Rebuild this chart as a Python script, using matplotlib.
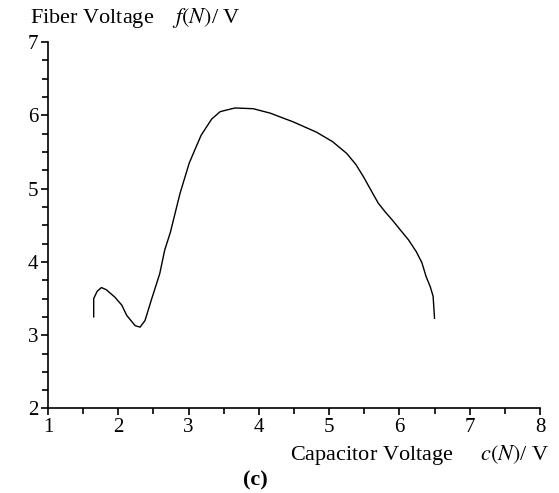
import matplotlib.pyplot as plt
from matplotlib.ticker import MultipleLocator

plt.rcParams['font.family'] = 'Liberation Serif'
plt.rcParams['mathtext.fontset'] = 'stix'

# curve (capacitor voltage, fiber voltage)
cap_v = [1.65, 1.65, 1.70, 1.76, 1.83, 1.95, 2.05, 2.12, 2.24, 2.31, 2.38,
         2.47, 2.59, 2.66, 2.74, 2.88, 3.01, 3.09, 3.18, 3.33, 3.45, 3.66,
         3.92, 4.16, 4.49, 4.82, 5.05, 5.25, 5.38, 5.49, 5.60, 5.70, 5.80,
         5.90, 6.01, 6.13, 6.24, 6.32, 6.38, 6.44, 6.48, 6.50]
fiber_v = [3.25, 3.50, 3.60, 3.65, 3.62, 3.52, 3.41, 3.27, 3.13, 3.11, 3.20,
           3.48, 3.84, 4.16, 4.40, 4.94, 5.35, 5.53, 5.73, 5.95, 6.05, 6.10,
           6.09, 6.03, 5.91, 5.77, 5.64, 5.48, 5.33, 5.16, 4.97, 4.80, 4.68,
           4.57, 4.44, 4.30, 4.14, 3.99, 3.80, 3.66, 3.53, 3.23]

fig = plt.figure(figsize=(5.59, 4.93), dpi=100)
ax = fig.add_axes([0.0859, 0.1714, 0.880, 0.7434])

ax.plot(cap_v, fiber_v, color='black', linewidth=1.0)

ax.set_xlim(1, 8)
ax.set_ylim(2, 7)
ax.xaxis.set_major_locator(MultipleLocator(1))
ax.xaxis.set_minor_locator(MultipleLocator(0.5))
ax.yaxis.set_major_locator(MultipleLocator(1))
ax.yaxis.set_minor_locator(MultipleLocator(0.25))

for side in ['top', 'right']:
    ax.spines[side].set_visible(False)
for side in ['left', 'bottom']:
    ax.spines[side].set_linewidth(1.2)

ax.tick_params(which='major', length=5, width=1.2, labelsize=15, pad=2)
ax.tick_params(which='minor', length=4, width=1.2)

fig.text(30 / 559, 1 - 18 / 493, 'Fiber Voltage    $f(N)$/ V',
         fontsize=16, ha='left', va='center')
fig.text(549 / 559, 1 - 455 / 493, 'Capacitor Voltage     $c(N)$/ V',
         fontsize=16, ha='right', va='center')
fig.text(255 / 559, 1 - 480 / 493, '(c)', fontsize=16, fontweight='bold',
         ha='center', va='center')

fig.savefig('out.png', dpi=100)
